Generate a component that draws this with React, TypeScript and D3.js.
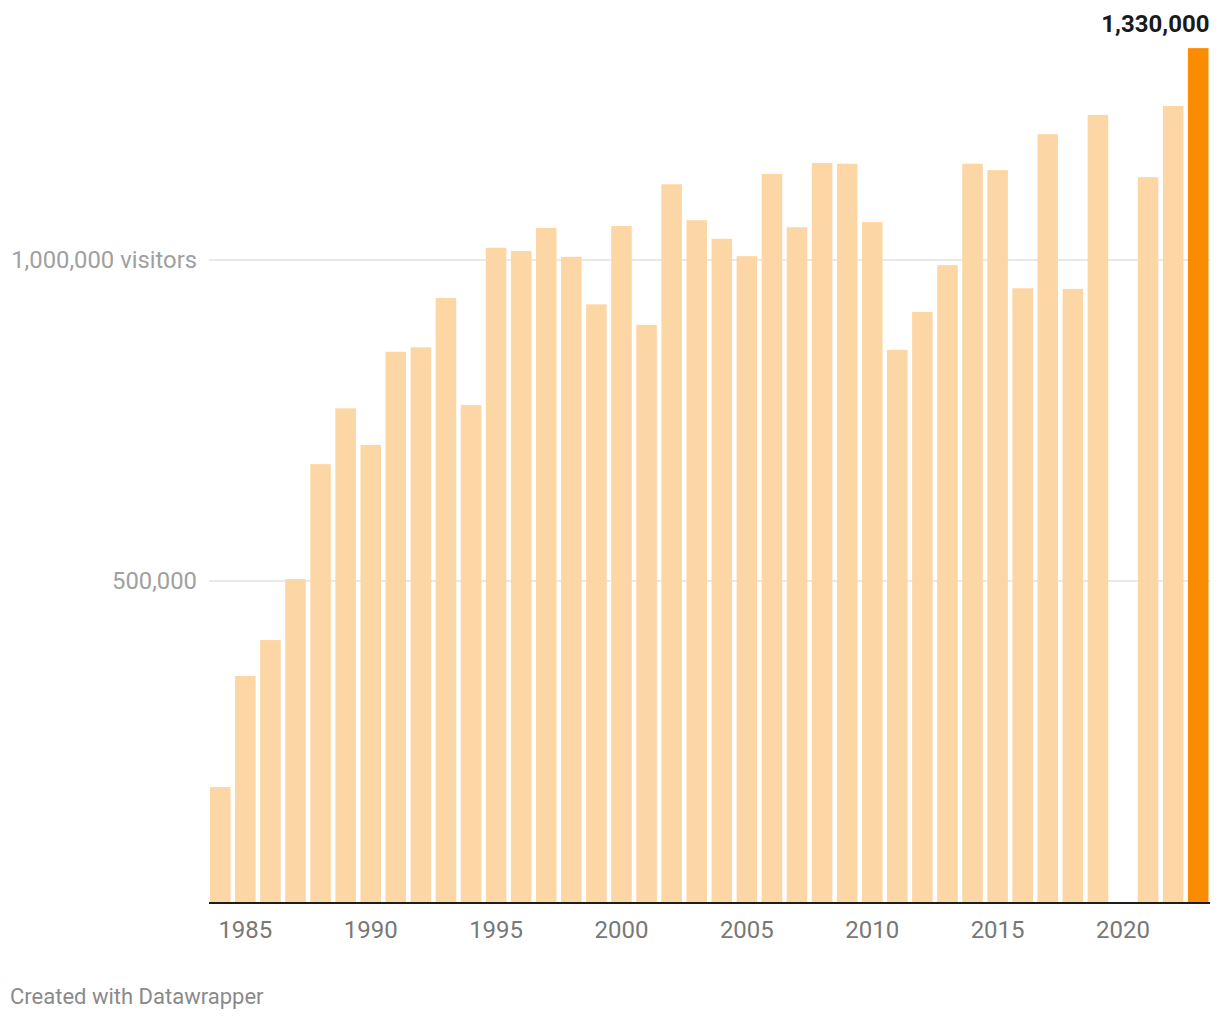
import * as d3 from "d3";

const years = d3.range(1984, 2024);
const visitors = [
  179000, 352000, 408000, 503000, 682000, 769000, 712000, 857000, 864000, 941000,
  774000, 1019000, 1014000, 1050000, 1005000, 931000, 1053000, 899000, 1118000, 1062000,
  1033000, 1006000, 1134000, 1051000, 1151000, 1150000, 1059000, 860000, 919000, 992000,
  1150000, 1140000, 956000, 1196000, 955000, 1226000, 0, 1129000, 1240000, 1330000,
];
const yTicks = [500000, 1000000];
const xTickYears = [1985, 1990, 1995, 2000, 2005, 2010, 2015, 2020];
const highlightYear = 2023;

const width = 1220;
const height = 1020;
const plotLeft = 210;
const plotRight = 1208.5;
const baseline = 902;

const fmt = d3.format(",");

export default function App() {
  const x = d3
    .scaleBand<number>()
    .domain(years)
    .range([plotLeft, plotRight])
    .paddingInner(0.18)
    .paddingOuter(0);
  const y = d3.scaleLinear().domain([0, 1000000]).range([baseline, 260]);

  const lastIdx = years.indexOf(highlightYear);
  const lastVal = visitors[lastIdx];

  return (
    <svg
      width={width}
      height={height}
      style={{ position: "absolute", left: 0, top: 0, fontFamily: "Roboto, sans-serif" }}
    >
      <rect width={width} height={height} fill="#fff" />
      {yTicks.map((t) => (
        <g key={t}>
          <line x1={plotLeft - 1} x2={plotRight + 1.5} y1={y(t)} y2={y(t)} stroke="#e2e2e2" strokeWidth={1.5} />
          <text x={197} y={y(t)} dy="0.35em" textAnchor="end" fontSize={23.8} fill="#a0a0a0">
            {fmt(t)}
            {t === 1000000 ? " visitors" : ""}
          </text>
        </g>
      ))}
      {years.map((yr, i) =>
        visitors[i] > 0 ? (
          <rect
            key={yr}
            x={x(yr)}
            y={y(visitors[i])}
            width={x.bandwidth()}
            height={baseline - y(visitors[i])}
            fill={yr === highlightYear ? "#f98c00" : "#fdd6a5"}
          />
        ) : null
      )}
      <line x1={plotLeft - 1} x2={plotRight + 1.5} y1={baseline + 1} y2={baseline + 1} stroke="#1d1d1d" strokeWidth={2} />
      {xTickYears.map((yr) => (
        <text
          key={yr}
          x={(x(yr) ?? 0) + x.bandwidth() / 2}
          y={938}
          textAnchor="middle"
          fontSize={24}
          fill="#787878"
        >
          {yr}
        </text>
      ))}
      <text
        x={(x(highlightYear) ?? 0) + x.bandwidth() + 1}
        y={32}
        textAnchor="end"
        fontSize={24}
        fontWeight="bold"
        fill="#1a1a1a"
      >
        {fmt(lastVal)}
      </text>
      <text x={10} y={1004} fontSize={22} fill="#8a8a8a">
        Created with Datawrapper
      </text>
    </svg>
  );
}
